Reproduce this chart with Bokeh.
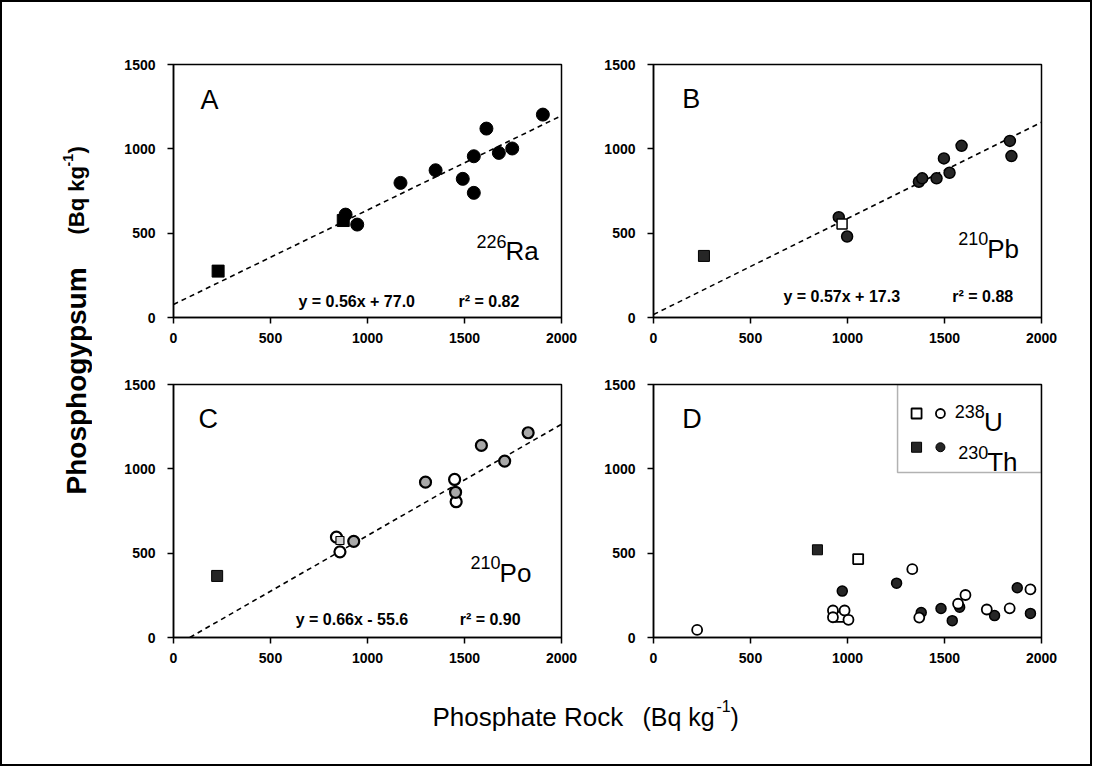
import math
from bokeh.plotting import figure
from bokeh.models import Range1d, FixedTicker, BoxAnnotation
from bokeh.layouts import row, column
from bokeh.embed import file_html
from bokeh.resources import INLINE
from bokeh.core.properties import value

FONT = "Liberation Sans"

# ---------------- data (Bq/kg) ----------------
x_ticks = [0, 500, 1000, 1500, 2000]
y_ticks = [0, 500, 1000, 1500]

# Panel A : 226Ra
ra_circ_x = [887, 947, 1170, 1351, 1491, 1548, 1548, 1613, 1677, 1746, 1904]
ra_circ_y = [610, 551, 798, 873, 822, 739, 956, 1120, 976, 1002, 1203]
ra_sq_x = [230, 875]
ra_sq_y = [275, 575]
ra_fit_x = [0, 2000]
ra_fit_y = [77.0, 1197.0]
ra_eq = "y = 0.56x + 77.0"
ra_r2 = "r² = 0.82"

# Panel B : 210Pb
pb_circ_x = [955, 998, 1368, 1385, 1459, 1497, 1526, 1588, 1837, 1845]
pb_circ_y = [595, 480, 805, 825, 825, 943, 858, 1018, 1047, 957]
pb_sq_dark_x = [260]
pb_sq_dark_y = [365]
pb_sq_open_x = [972]
pb_sq_open_y = [555]
pb_fit_x = [0, 2000]
pb_fit_y = [17.3, 1157.3]
pb_eq = "y = 0.57x + 17.3"
pb_r2 = "r² = 0.88"

# Panel C : 210Po
po_gray_x = [929, 1299, 1454, 1587, 1707, 1828]
po_gray_y = [570, 921, 861, 1139, 1046, 1214]
po_open_x = [840, 858, 1449, 1457]
po_open_y = [595, 508, 937, 805]
po_sq_dark_x = [225]
po_sq_dark_y = [365]
po_sq_light_x = [858]
po_sq_light_y = [575]
po_fit_x = [84.2, 2000]
po_fit_y = [0.0, 1264.4]
po_eq = "y = 0.66x - 55.6"
po_r2 = "r² = 0.90"

# Panel D : 238U (open) and 230Th (shaded)
u_circ_x = [225, 925, 985, 925, 1005, 1334, 1370, 1570, 1608, 1718, 1836, 1943]
u_circ_y = [45, 160, 160, 120, 105, 405, 118, 200, 252, 166, 173, 285]
th_circ_x = [973, 1253, 1380, 1482, 1540, 1578, 1758, 1875, 1943]
th_circ_y = [275, 322, 148, 172, 100, 180, 130, 295, 143]
u_sq_x = [1055, 962]
u_sq_y = [465, 122]
th_sq_x = [845]
th_sq_y = [520]

DARK = "#262626"
GRAY = "#a8a8a8"


def make_panel(ml, mr, mt, mb, fh):
    p = figure(frame_width=388, frame_height=fh,
               min_border_left=ml, min_border_right=mr,
               min_border_top=mt, min_border_bottom=mb,
               x_range=Range1d(0, 2000), y_range=Range1d(0, 1500),
               output_backend="svg", toolbar_location=None, tools="")
    p.grid.visible = False
    p.outline_line_color = "black"
    p.outline_line_width = 1.5
    p.xaxis.ticker = FixedTicker(ticks=x_ticks)
    p.yaxis.ticker = FixedTicker(ticks=y_ticks)
    for ax in (p.xaxis[0], p.yaxis[0]):
        ax.major_tick_out = 6
        ax.major_tick_in = 0
        ax.minor_tick_out = 0
        ax.minor_tick_in = 0
        ax.axis_line_width = 1.5
        ax.axis_line_color = "black"
        ax.major_tick_line_width = 1.5
        ax.major_tick_line_color = "black"
        ax.major_label_text_font = FONT
        ax.major_label_text_font_size = "14px"
        ax.major_label_text_font_style = "bold"
        ax.major_label_text_color = "black"
    p.xaxis.major_label_standoff = 9
    p.yaxis.major_label_standoff = 12
    p.background_fill_color = "white"
    p.border_fill_color = "white"
    return p


def letter(p, x, y, t):
    p.text(x=[x], y=[y], text=[t], text_align="left", text_baseline="alphabetic",
           text_font=value(FONT), text_font_size="27px", text_color="black")


def iso(p, x, y, mass, sym):
    p.text(x=[x], y=[y], text=[sym], text_align="left", text_baseline="alphabetic",
           text_font=value(FONT), text_font_size="26px", text_color="black")
    p.text(x=[x], y=[y], text=[mass], text_align="right", text_baseline="alphabetic",
           y_offset=-10, x_offset=1,
           text_font=value(FONT), text_font_size="18px", text_color="black")


def eqn(p, x1, x2, y, e, r):
    for xx, t in ((x1, e), (x2, r)):
        p.text(x=[xx], y=[y], text=[t], text_align="left", text_baseline="middle",
               text_font=value(FONT), text_font_size="16px", text_font_style="bold",
               text_color="black")


def fit(p, xs, ys):
    p.line(xs, ys, line_color="black", line_width=1.6, line_dash="5 4")


# ---------------- Panel A ----------------
pA = make_panel(81, 39, 62, 34, 253)
fit(pA, ra_fit_x, ra_fit_y)
pA.scatter(ra_sq_x, ra_sq_y, marker="square", size=12, fill_color="black", line_color="black")
pA.scatter(ra_circ_x, ra_circ_y, marker="circle", size=13, fill_color="black", line_color="black")
letter(pA, 139, 1292, "A")
iso(pA, 1711, 393, "226", "Ra")
eqn(pA, 644, 1469, 97, ra_eq, ra_r2)

# ---------------- Panel B ----------------
pB = make_panel(53, 49, 62, 34, 253)
fit(pB, pb_fit_x, pb_fit_y)
pB.scatter(pb_sq_dark_x, pb_sq_dark_y, marker="square", size=11, fill_color=DARK, line_color="black")
pB.scatter(pb_circ_x, pb_circ_y, marker="circle", size=11, fill_color=DARK, line_color="black", line_width=1.5)
pB.scatter(pb_sq_open_x, pb_sq_open_y, marker="square", size=10, fill_color="white", line_color="black", line_width=1.5)
letter(pB, 148, 1298, "B")
iso(pB, 1720, 408, "210", "Pb")
eqn(pB, 670, 1540, 126, pb_eq, pb_r2)

# ---------------- Panel C ----------------
pC = make_panel(81, 39, 33, 51, 253)
fit(pC, po_fit_x, po_fit_y)
pC.scatter(po_sq_dark_x, po_sq_dark_y, marker="square", size=11, fill_color=DARK, line_color="black")
pC.scatter(po_open_x, po_open_y, marker="circle", size=11, fill_color="white", line_color="black", line_width=2.2)
pC.scatter(po_gray_x, po_gray_y, marker="circle", size=11, fill_color=GRAY, line_color="black", line_width=2.2)
pC.scatter(po_sq_light_x, po_sq_light_y, marker="square", size=8, fill_color="#d0d0d0", line_color="black", line_width=1.2)
letter(pC, 129, 1298, "C")
iso(pC, 1681, 385, "210", "Po")
eqn(pC, 630, 1475, 107, po_eq, po_r2)

# ---------------- Panel D ----------------
pD = make_panel(53, 49, 33, 51, 253)
pD.scatter(th_sq_x, th_sq_y, marker="square", size=10, fill_color=DARK, line_color="black")
pD.scatter(u_sq_x, u_sq_y, marker="square", size=10, fill_color="white", line_color="black", line_width=1.8)
pD.scatter(th_circ_x, th_circ_y, marker="circle", size=10, fill_color=DARK, line_color="black", line_width=1.5)
pD.scatter(u_circ_x, u_circ_y, marker="circle", size=10, fill_color="white", line_color="black", line_width=1.8)
letter(pD, 148, 1296, "D")
# legend (drawn inside the panel)
pD.add_layout(BoxAnnotation(left=1258, right=2000, bottom=978, top=1500,
                            fill_alpha=0, line_color="black", line_width=1.5))
pD.scatter([1356], [1328], marker="square", size=10, fill_color="white", line_color="black", line_width=1.8)
pD.scatter([1479], [1328], marker="circle", size=9, fill_color="white", line_color="black", line_width=1.8)
pD.scatter([1356], [1128], marker="square", size=10, fill_color=DARK, line_color="black")
pD.scatter([1479], [1128], marker="circle", size=9, fill_color=DARK, line_color="black")
iso(pD, 1703, 1280, "238", "U")
iso(pD, 1720, 1039, "230", "Th")

# ---------------- axis titles ----------------
YH = 684
yl = figure(frame_width=90, frame_height=YH, min_border=0,
            x_range=Range1d(0, 90), y_range=Range1d(0, YH),
            output_backend="svg", toolbar_location=None, tools="")
yl.axis.visible = False
yl.grid.visible = False
yl.outline_line_color = None
TT = dict(text_font=value(FONT), text_color="black", angle=math.pi / 2,
          text_align="left", text_baseline="middle", text_font_style="bold")
yl.text(x=[74], y=[192], text=["Phosphogypsum"], text_font_size="28px", **TT)
yl.text(x=[74], y=[452], text=["(Bq kg"], text_font_size="22px", **TT)
yl.text(x=[74], y=[520], text=["-1"], text_font_size="14px", x_offset=-9, **TT)
yl.text(x=[74], y=[533], text=[")"], text_font_size="22px", **TT)

xl = figure(frame_width=1088, frame_height=76, min_border=0,
            x_range=Range1d(0, 1088), y_range=Range1d(0, 76),
            output_backend="svg", toolbar_location=None, tools="")
xl.axis.visible = False
xl.grid.visible = False
xl.outline_line_color = None
XT = dict(text_font=value(FONT), text_color="black", text_align="left", text_baseline="alphabetic")
xl.text(x=[430], y=[48], text=["Phosphate Rock"], text_font_size="26px", **XT)
xl.text(x=[640], y=[48], text=["(Bq kg"], text_font_size="25px", **XT)
xl.text(x=[714], y=[48], text=["-1"], text_font_size="16px", y_offset=-11, **XT)
xl.text(x=[728], y=[48], text=[")"], text_font_size="25px", **XT)

grid = column(row(pA, pB), row(pC, pD))
page = column(row(yl, grid), xl, styles={"border": "2px solid black"})

open("out.html", "w").write(file_html(page, INLINE, title="Phosphogypsum vs phosphate rock"))
